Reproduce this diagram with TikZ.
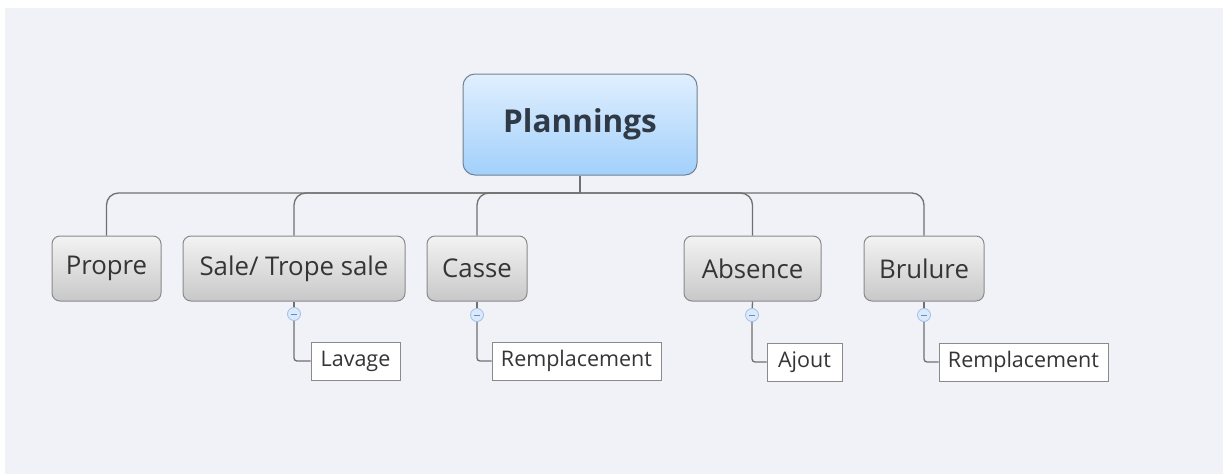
\documentclass[tikz,border=0pt]{standalone}
\usepackage{fontspec}
\setmainfont{Open Sans}
\usetikzlibrary{calc}
\definecolor{canvas}{HTML}{F1F2F8}
\definecolor{rootTop}{HTML}{E0EFFE}
\definecolor{rootBot}{HTML}{A2D0FB}
\definecolor{rootLine}{HTML}{6F8192}
\definecolor{rootText}{HTML}{2F3A46}
\definecolor{topicTop}{HTML}{F3F3F3}
\definecolor{topicBot}{HTML}{C8C8C8}
\definecolor{topicLine}{HTML}{8A8A8A}
\definecolor{topicText}{HTML}{353535}
\definecolor{wire}{HTML}{707070}
\definecolor{knobFill}{HTML}{DCE9FB}
\definecolor{knobLine}{HTML}{9DBFE8}
\definecolor{knobMark}{HTML}{5F8FCB}
\tikzset{
  rootbox/.style={draw=rootLine, line width=1pt, rounded corners=12pt,
    top color=rootTop, bottom color=rootBot, text=rootText,
    minimum width=234pt, minimum height=101pt, inner sep=0pt,
    font=\fontsize{31.5}{36}\selectfont\bfseries},
  topicbox/.style={draw=topicLine, line width=1pt, rounded corners=8pt,
    top color=topicTop, bottom color=topicBot, text=topicText,
    minimum height=65pt, inner sep=0pt, font=\fontsize{25.8}{30}\selectfont},
  leafbox/.style={draw=topicLine, line width=0.9pt, fill=white, text=topicText,
    minimum height=38pt, inner sep=0pt, font=\fontsize{21.5}{25}\selectfont},
  wireline/.style={draw=wire, line width=1.3pt},
  knob/.style={circle, draw=knobLine, fill=knobFill, line width=0.8pt,
    minimum size=13pt, inner sep=0pt,
    path picture={\draw[knobMark, line width=0.9pt]
      ($(path picture bounding box.center)+(-3pt,0)$) --
      ($(path picture bounding box.center)+(3pt,0)$);}},
}
\begin{document}
\begin{tikzpicture}[x=1pt,y=-1pt]
  \useasboundingbox (0,0) rectangle (1223,474);
  \fill[canvas] (5,8) rectangle (1223,474);

  % central topic
  \node[rootbox] (root) at (580,124.5) {Plannings};

  % main topics
  \node[topicbox, minimum width=109pt] (propre) at (106.5,268.5) {Propre};
  \node[topicbox, minimum width=222pt] (sale) at (294,268.5) {Sale/ Trope sale};
  \node[topicbox, minimum width=100pt] (casse) at (477,268.5) {Casse};
  \node[topicbox, minimum width=137pt] (absence) at (752.5,268.5) {Absence};
  \node[topicbox, minimum width=120pt] (brulure) at (924,268.5) {Brulure};

  % tree wiring from the central topic
  \coordinate (bus) at (580,193);
  \draw[wireline] (root.south) -- (bus);
  \foreach \t in {propre,sale,casse,absence,brulure}
    \draw[wireline, rounded corners=12pt] (bus) -| (\t.north);

  % subtopics
  \node[leafbox, minimum width=89pt] (lavage) at (355.5,361) {Lavage};
  \node[leafbox, minimum width=169pt] (rempA) at (576.5,361) {Remplacement};
  \node[leafbox, minimum width=75pt] (ajout) at (804.5,362) {Ajout};
  \node[leafbox, minimum width=169pt] (rempB) at (1023.5,362) {Remplacement};

  % collapse knobs
  \coordinate (kSale) at (294,314);
  \coordinate (kCasse) at (477,315);
  \coordinate (kAbsence) at (752,315);
  \coordinate (kBrulure) at (924,315);

  \draw[wireline] (sale.south) -- (kSale);
  \draw[wireline] (casse.south) -- (kCasse);
  \draw[wireline] (absence.south) -- (kAbsence);
  \draw[wireline] (brulure.south) -- (kBrulure);

  \draw[wireline, rounded corners=3pt] (kSale) |- (lavage.west);
  \draw[wireline, rounded corners=3pt] (kCasse) |- (rempA.west);
  \draw[wireline, rounded corners=3pt] (kAbsence) |- (ajout.west);
  \draw[wireline, rounded corners=3pt] (kBrulure) |- (rempB.west);

  \node[knob] (knobSale) at (kSale) {};
  \node[knob] (knobCasse) at (kCasse) {};
  \node[knob] (knobAbsence) at (kAbsence) {};
  \node[knob] (knobBrulure) at (kBrulure) {};
\end{tikzpicture}
\end{document}
